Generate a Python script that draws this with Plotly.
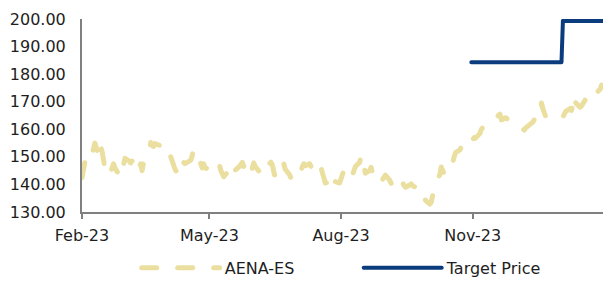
import pandas as pd
import plotly.graph_objects as go

# AENA-ES daily closes (business days), one list per month
feb23 = [142.5, 146, 148, 147, 149.5, 151, 153, 155, 150, 154, 152, 149, 146, 143, 144.5, 146, 147.5, 146, 143, 142.5]
mar23 = [144.5, 147, 149.5, 148.5, 147.8, 148.5, 150.2, 149, 146, 147.5, 145, 148, 150, 152.5, 155.2, 154, 153.8, 154.8, 154.2, 155, 153.5, 152, 151]
apr23 = [150.5, 150, 148.5, 147, 145.5, 143, 145, 147, 148, 147.5, 148.5, 148.8, 150.5, 152.8, 151, 149, 147.5, 146, 147.5, 146]
may23 = [145.5, 147.2, 146.5, 145.8, 146.5, 147, 145, 144, 142.8, 143.5, 145, 147.8, 147, 146, 145.2, 146.5, 147.2, 148, 146.5, 148, 146.2, 144.2, 146]
jun23 = [147.8, 146.5, 145, 144, 143.2, 143.4, 145.5, 147, 148.1, 147, 144.5, 142.3, 143.5, 144.5, 146, 147.5, 145.5, 143.5, 142.3, 143.8, 144.5, 145.6]
jul23 = [146, 145, 146.5, 147.5, 146.8, 147.5, 146.5, 147, 148, 146, 145, 146, 144, 141.5, 140.5, 141, 142.5, 144, 143, 141, 140.5]
aug23 = [142, 143.8, 145.2, 144.5, 143, 142, 143.5, 145, 146.5, 148, 150.7, 149, 146.5, 144.1, 145, 146.2, 144, 142.5, 141.5, 140.3, 141, 142, 143]
sep23 = [143.4, 141.5, 140.2, 139, 138.3, 139, 140, 141.2, 140.6, 139.5, 139, 139.8, 140.2, 139.5, 139.3, 139, 139.5, 138.7, 137, 135.5, 134.2]
oct23 = [132.9, 133.5, 136, 138.5, 140.5, 143.5, 146.3, 145, 144, 146, 145.5, 147, 148, 150, 151.5, 152.5, 153.6, 152.8, 153.5, 154.5, 156, 155.5]
nov23 = [156.5, 157, 156.8, 158.5, 160, 160.5, 161.2, 161, 162.3, 163, 163.4, 163.8, 164.5, 165.5, 163.4, 163.6, 164, 164.2, 163, 162.5, 161.8, 162]
dec23 = [162, 161, 160.5, 160, 159.7, 160.5, 161.5, 162, 162.6, 163.5, 162.8, 165, 169.5, 167.5, 166, 164.5, 164.5, 164.3, 164.6, 164.5, 165]
jan24 = [165, 164.5, 164.5, 165.5, 166.5, 167.5, 166.8, 169, 172.4, 169.5, 168, 168.5, 169.5, 170.5, 171, 170.5, 170, 170, 171.5, 173, 174.5, 176]

aena_values = feb23 + mar23 + apr23 + may23 + jun23 + jul23 + aug23 + sep23 + oct23 + nov23 + dec23 + jan24
aena_dates = pd.bdate_range("2023-02-01", "2024-01-30")

# Target price
target_levels = [184.3, 199.3]
target_change_date = "2024-01-03"
target_dates = pd.bdate_range("2023-10-31", "2024-01-31")
target_values = [target_levels[0] if d < pd.Timestamp(target_change_date) else target_levels[1] for d in target_dates]

tick_dates = ["2023-02-01", "2023-05-01", "2023-08-01", "2023-11-01"]
tick_labels = ["Feb-23", "May-23", "Aug-23", "Nov-23"]
y_ticks = [130, 140, 150, 160, 170, 180, 190, 200]

FONT = "DejaVu Sans"
TXT = "#1E1E1E"

fig = go.Figure()
fig.add_trace(go.Scatter(
    x=aena_dates[:len(aena_values)], y=aena_values, mode="lines", name="AENA-ES",
    line=dict(color="#EADF9F", width=5, dash="15px,21px"),
))
fig.add_trace(go.Scatter(
    x=target_dates, y=target_values, mode="lines", name="Target Price",
    line=dict(color="#0B3C7D", width=4),
))

fig.update_layout(
    width=603, height=282,
    margin=dict(l=82, r=0, t=19, b=70, autoexpand=False),
    paper_bgcolor="white", plot_bgcolor="white",
    font=dict(family=FONT, size=16, color=TXT),
    showlegend=True,
    legend=dict(orientation="h", x=0.105, xanchor="left", y=-0.29, yanchor="middle",
                itemwidth=78, entrywidth=129, entrywidthmode="pixels",
                font=dict(size=16, color=TXT), bgcolor="rgba(0,0,0,0)"),
    xaxis=dict(
        type="date", range=["2023-02-01", "2024-01-31"], automargin=False,
        tickmode="array", tickvals=tick_dates, ticktext=tick_labels,
        showgrid=False, zeroline=False,
        showline=True, linecolor="#808080", linewidth=2,
        ticks="outside", ticklen=5, tickwidth=1.5, tickcolor="#808080",
        ticklabelstandoff=3,
    ),
    yaxis=dict(
        range=[130, 200], tickmode="array", tickvals=y_ticks, automargin=False,
        tickformat=".2f", showgrid=False, zeroline=False,
        showline=True, linecolor="#808080", linewidth=2,
        ticks="", ticklabelstandoff=11,
    ),
)

post = ("var s=document.createElement('style');"
        "s.textContent='html,body{margin:0!important;padding:0!important;}"
        ".js-line{stroke-linecap:round !important;stroke-linejoin:round !important;}';"
        "document.head.appendChild(s);")
fig.write_html("out.html", post_script=post, config={"displayModeBar": False})
